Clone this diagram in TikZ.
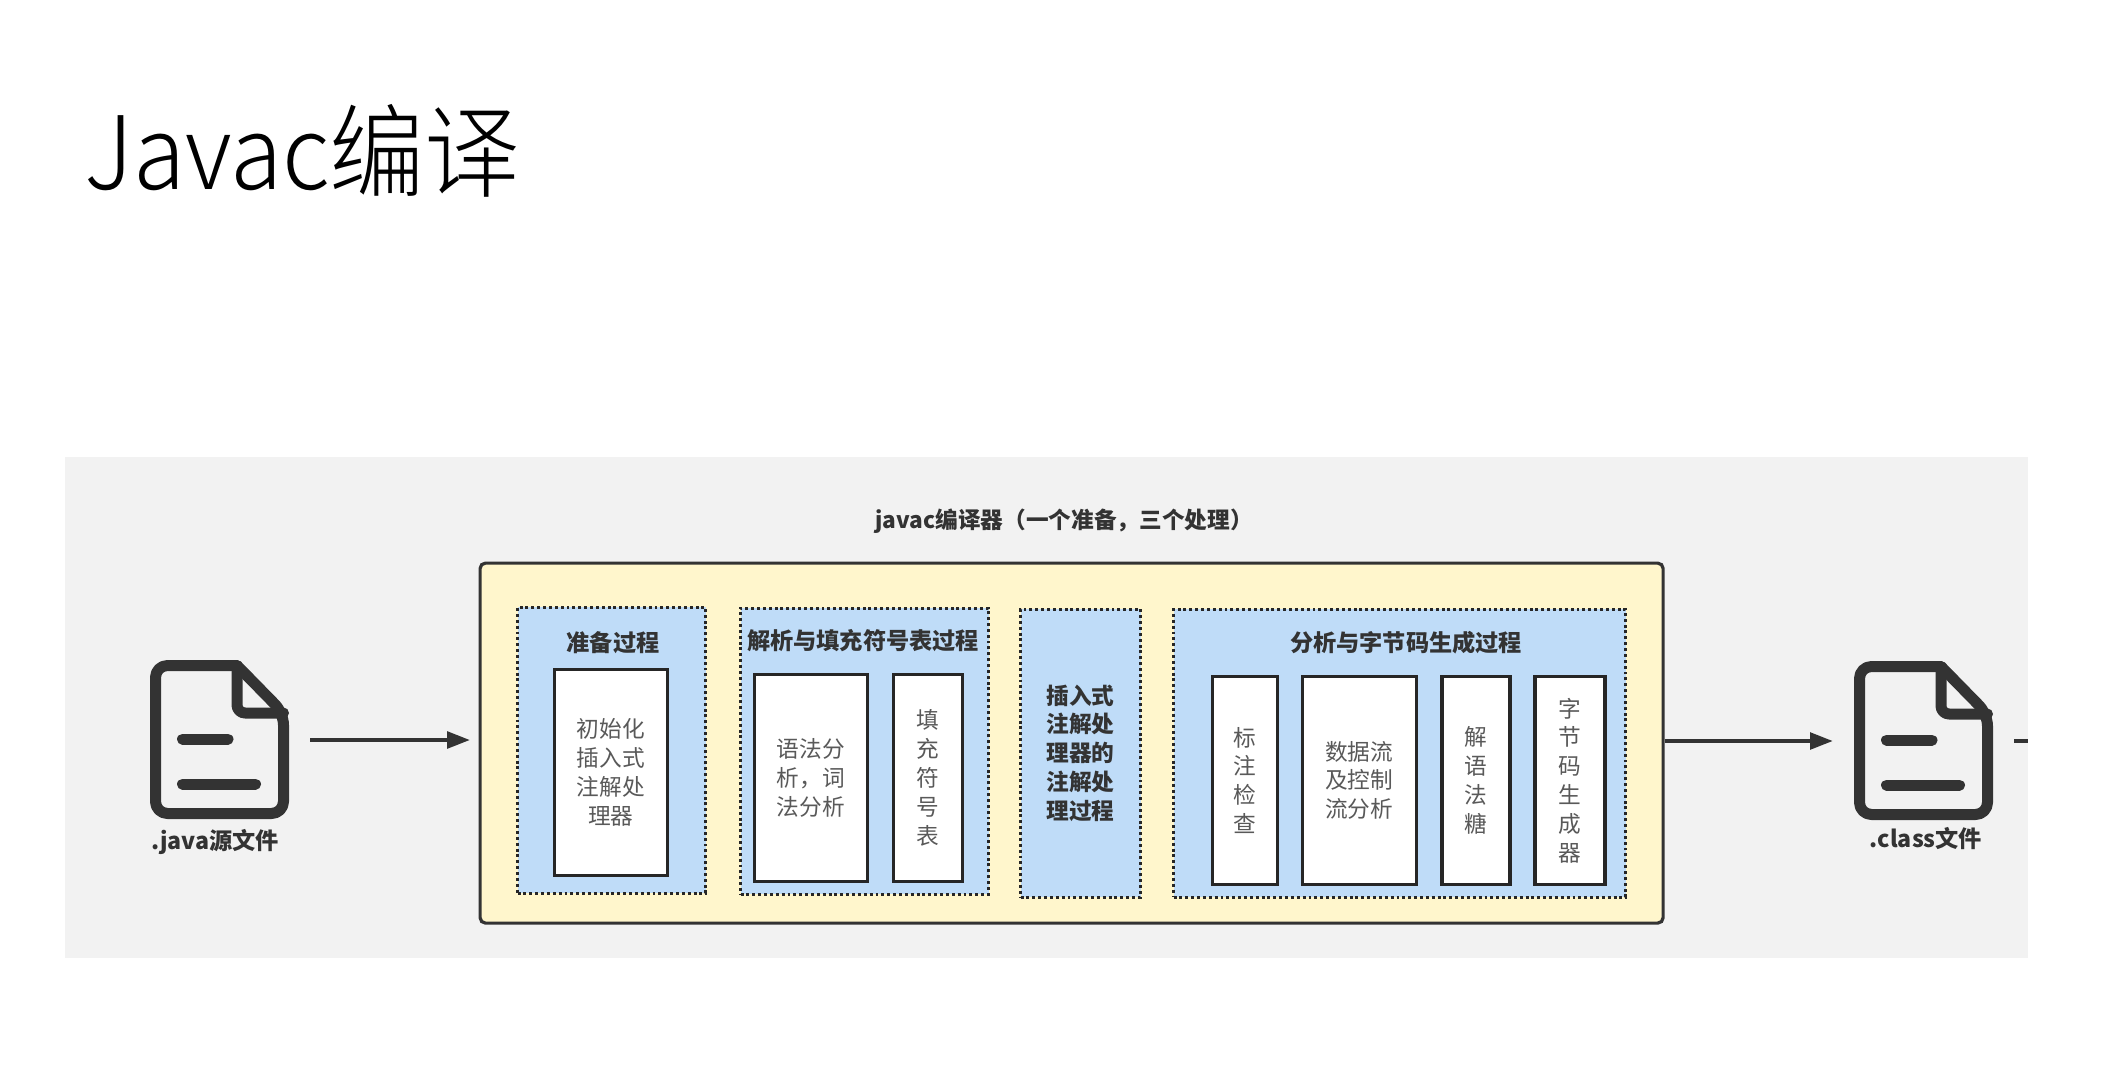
\documentclass[tikz,border=0pt]{standalone}
\usepackage{xcolor}
\usepackage{fontspec}
\setmainfont{Noto Sans CJK SC}
\newfontfamily\titlefont[UprightFont={* Light},FakeStretch=0.94]{Noto Sans CJK SC}
\usetikzlibrary{arrows.meta}

\definecolor{panelgray}{RGB}{242,242,242}
\definecolor{compileryellow}{RGB}{255,246,204}
\definecolor{stageblue}{RGB}{191,220,248}
\definecolor{inkgray}{RGB}{51,51,51}

\tikzset{
	compilerbox/.style={draw=inkgray,line width=2.4pt,fill=compileryellow,rounded corners=4pt,anchor=north west,inner sep=0pt},
	stagebox/.style={draw=black!85,line width=2.4pt,dash pattern=on 2.2pt off 2.2pt,fill=stageblue,anchor=north west,align=center,inner sep=0pt,font=\fontsize{17}{21.6}\selectfont\bfseries,text=inkgray},
	stepbox/.style={draw=black!85,line width=2.7pt,fill=white,anchor=north west,align=center,inner sep=0pt,font=\fontsize{17}{21.6}\selectfont,text=black!65},
	headlabel/.style={inner sep=0pt,font=\fontsize{17.4}{21.6}\selectfont\bfseries,text=inkgray},
	flowarrow/.style={draw=inkgray,line width=2.6pt,-{Triangle[length=17pt,width=12.5pt]}},
	iconline/.style={draw=inkgray,line width=8.25pt,line join=round,line cap=round},
	fileicon/.pic={
		\draw[iconline] (17,-74.5) [rounded corners=9pt] -- (-64.5,-74.5) -- (-64.5,73.5) -- (63.5,73.5) -- (63.5,-27) [sharp corners] -- cycle;
		\draw[iconline] (17,-74.5) [rounded corners=6pt] -- (17,-27) -- (63.5,-27);
		\draw[iconline] (-37.5,-1) -- (8,-1);
		\draw[iconline] (-37.5,44) -- (35.5,44);
	}
}

\begin{document}
\begin{tikzpicture}[x=0.75pt,y=0.75pt,yscale=-1]
	\useasboundingbox (0,0) rectangle (2118,1078);
	
	%Title
	\node (title) [anchor=west,inner sep=0pt,font=\fontsize{76}{76}\titlefont] at (84,151) {Javac编译};
	
	%Shape: Rectangle background
	\fill[panelgray] (65,457) rectangle (2028,958);
	\node (compilerlabel) [headlabel,font=\fontsize{17}{21.6}\selectfont\bfseries] at (1064,521) {javac编译器（一个准备，三个处理）};
	
	%Compiler frame
	\node (compiler) [compilerbox,minimum width=887.25pt,minimum height=270pt] at (478.5,561.5) {};
	
	%Preparation stage
	\node (prepare) [stagebox,minimum width=141pt,minimum height=214.5pt] at (516,605.5) {};
	\node (preparelabel) [headlabel] at (613,643) {准备过程};
	\node (initproc) [stepbox,minimum width=84.75pt,minimum height=154.5pt] at (552.5,667.5) {初始化\\插入式\\注解处\\理器};
	
	%Parse stage
	\node (parse) [stagebox,minimum width=186pt,minimum height=214.5pt] at (739,606.5) {};
	\node (parselabel) [headlabel] at (863,641) {解析与填充符号表过程};
	\node (lexparse) [stepbox,minimum width=84.75pt,minimum height=155.25pt] at (752.5,672.5) {语法分\\析，词\\法分析};
	\node (symtable) [stepbox,minimum width=51.75pt,minimum height=155.25pt] at (891.5,672.5) {填\\充\\符\\号\\表};
	
	%Annotation stage
	\node (annotate) [stagebox,minimum width=90pt,minimum height=216pt] at (1019,607.5) {插入式\\注解处\\理器的\\注解处\\理过程};
	
	%Analysis stage
	\node (analyse) [stagebox,minimum width=339pt,minimum height=216pt] at (1172,607.5) {};
	\node (analyselabel) [headlabel] at (1406,643) {分析与字节码生成过程};
	\node (attribute) [stepbox,minimum width=48.75pt,minimum height=156pt] at (1210.5,674.5) {标\\注\\检\\查};
	\node (dataflow) [stepbox,minimum width=85.5pt,minimum height=156pt] at (1300.5,674.5) {数据流\\及控制\\流分析};
	\node (desugar) [stepbox,minimum width=51pt,minimum height=156pt] at (1440,674.5) {解\\语\\法\\糖};
	\node (generate) [stepbox,minimum width=52.5pt,minimum height=156pt] at (1533,674.5) {字\\节\\码\\生\\成\\器};
	
	%File icons
	\node (javafile) [minimum width=105pt,minimum height=120pt,inner sep=0pt] at (220,740) {};
	\pic[transform shape] at (javafile.center) {fileicon};
	\node (javalabel) [headlabel] at (215,842) {.java源文件};
	\node (classfile) [minimum width=105pt,minimum height=120pt,inner sep=0pt] at (1924,741) {};
	\pic[transform shape] at (classfile.center) {fileicon};
	\node (classlabel) [headlabel] at (1926,839) {.class文件};
	\coordinate (stubend) at (2028,741);
	
	%Straight Lines
	\draw[flowarrow,shorten <=15pt,shorten >=6.5pt] (javafile.east) -- (javafile.east -| compiler.west);
	\draw[flowarrow,shorten >=15.75pt] (classfile.west -| compiler.east) -- (classfile.west);
	\draw[draw=inkgray,line width=2.6pt,shorten <=15pt] (classfile.east) -- (stubend);
	
\end{tikzpicture}
\end{document}
